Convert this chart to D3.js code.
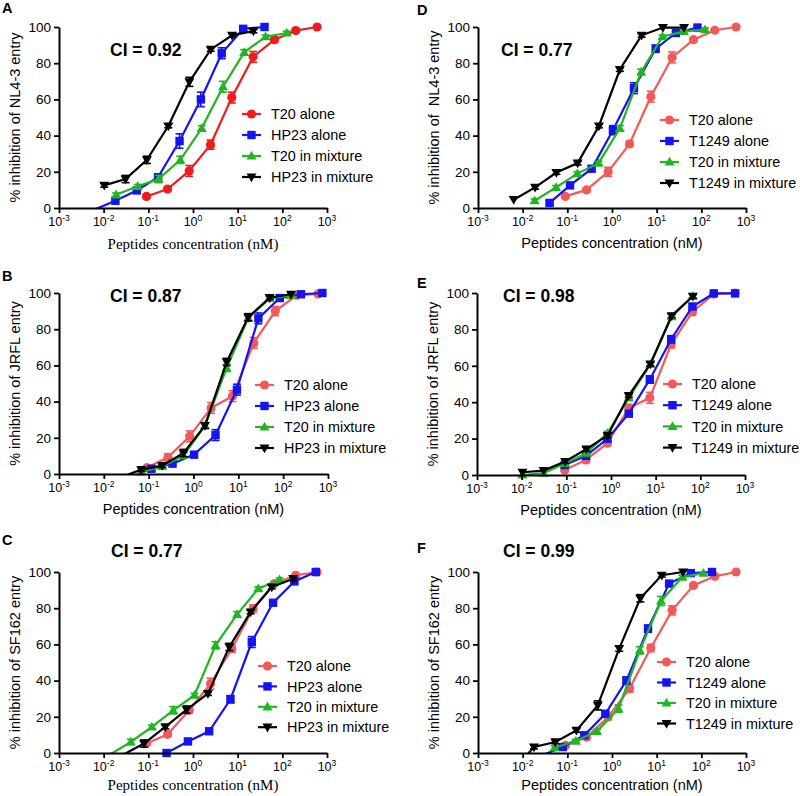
<!DOCTYPE html>
<html>
<head>
<meta charset="utf-8">
<script src="https://cdn.jsdelivr.net/npm/d3@7"></script>
<style>
    body { margin: 0; background: #fff; }
    text { font-family: "Liberation Sans", Arial, sans-serif; fill: #000; white-space: pre; }
</style>
</head>
<body>
<svg id="chart" width="800" height="796"></svg>
<script>
// Each point: [peptide concentration (nM), % inhibition, error]
// Panel A - NL4-3, T20 + HP23
const A_T20 = [[0.091,6.4,1],[0.27,10.5,1],[0.82,20.5,3],[2.47,35,2.5],[7.4,61,3],[22.2,83.5,3],[66.7,93,1.5],[200,98,1],[600,100,0.5]];
const A_HP23 = [[0.0061,-1,0],[0.0183,4,1],[0.055,9.7,1.5],[0.165,17,1.5],[0.5,37,4],[1.5,60,4],[4.4,85.5,3],[13.3,99,1],[40,100,0.5]];
const A_T20mix = [[0.019,7.3,1],[0.058,12,1],[0.17,16,2],[0.52,26.6,2],[1.56,44,1.5],[4.7,67,3],[14,86,1.5],[42,94.6,1],[126,96.7,1]];
const A_HP23mix = [[0.0103,12.5,1],[0.031,16,2],[0.093,26.6,2],[0.28,45.3,1],[0.83,69.7,2.5],[2.5,87.6,1],[7.5,95.4,1],[22.5,97.8,1]];

// Panel D - NL4-3, T20 + T1249
const D_T20 = [[0.09,6.4,1],[0.27,10,1],[0.82,20,2.5],[2.47,35.4,1.5],[7.4,61.5,3],[22.2,83.2,3],[66.7,93,1],[200,98.2,1],[600,100,0.5]];
const D_T1249 = [[0.04,2.8,1],[0.115,12.5,1.5],[0.35,21.7,1.5],[1.05,43,2.5],[3.1,66.2,3],[9.5,88,2],[27,96.7,1],[82,99.7,0.5]];
const D_T20mix = [[0.0185,4,1],[0.056,11.4,1],[0.167,19,1],[0.5,24.8,1],[1.5,44,1.5],[4.5,75.2,1.5],[13.5,94.6,1],[40.5,97.6,1],[121,98.5,1]];
const D_T1249mix = [[0.0063,4.6,0.5],[0.019,11.4,1],[0.057,19.6,1],[0.17,24.8,1],[0.51,45.3,1],[1.5,76.5,1],[4.6,95.4,1],[13.8,99.7,0.5],[41,99.7,0.5]];

// Panel B - JRFL, T20 + HP23
const B_T20 = [[0.091,3.5,1],[0.27,9.2,2],[0.82,20.8,3],[2.47,36.5,3],[7.4,43,3],[22.2,72.4,3],[66.7,90,2.5],[200,98.7,1],[600,99.5,0.5]];
const B_HP23 = [[0.115,2.9,1],[0.34,5.7,1],[1.03,10.7,1.5],[3.1,21.5,3],[9.3,46.6,3],[28,86,3],[84,97.2,1.5],[250,99.3,1],[750,100,0.5]];
const B_T20mix = [[0.0685,1.1,1],[0.2,4.2,1],[0.6,10.3,1.5],[1.8,26.7,1.5],[5.5,58.6,2],[16.6,86.2,1.5],[50,97,1],[150,98.7,1]];
const B_HP23mix = [[0.023,-2,0],[0.0685,2.4,1],[0.2,4.6,1],[0.6,11.6,2],[1.8,26.7,1.5],[5.5,61.9,2],[16.6,86.6,2],[50,97.4,1],[150,99.3,0.5]];

// Panel E - JRFL, T20 + T1249
const E_T20 = [[0.092,2.8,1],[0.276,8.3,1.5],[0.83,17.5,1.5],[2.5,36.8,2],[7.4,42.4,3],[22.2,71.8,2],[66.7,89.7,2],[200,99.4,0.5],[600,100,0.5]];
const E_T1249 = [[0.092,5.5,1],[0.276,10.5,1],[0.83,19.9,1],[2.5,33.7,1.5],[7.4,52.5,2],[22.2,74.6,2],[66.7,92.6,1.5],[200,99.8,0.5],[600,99.8,0.5]];
const E_T20mix = [[0.0104,0,0.5],[0.031,1,0.5],[0.094,6.4,1],[0.28,12,1],[0.84,23,1],[2.5,42.4,1],[7.6,60.8,1],[22.8,87,1],[68,98.2,1]];
const E_T1249mix = [[0.0104,1.5,0.5],[0.031,2.4,0.5],[0.094,7.4,1],[0.28,14.2,1],[0.84,21.7,1],[2.5,43.6,1],[7.6,61,1],[22.8,87.5,1],[68,98.2,1]];

// Panel C - SF162, T20 + HP23
const C_T20 = [[0.091,5.2,1],[0.27,10.3,1],[0.82,23.6,1.5],[2.47,38.3,3],[7.4,57.6,2],[22.2,79.8,2],[66.7,93.6,1],[200,98.2,1],[600,100,0.5]];
const C_HP23 = [[0.256,0,0.5],[0.77,6.4,1],[2.3,12,1],[6.9,29.7,2],[20.7,61.3,3],[62,83,1.5],[186,94.8,1],[560,100,0.5]];
const C_T20mix = [[0.0135,-1,0],[0.0405,6.1,1.5],[0.12,14.4,1],[0.36,23.6,2],[1.08,31.9,1],[3.2,59.5,2],[9.7,76.6,1.5],[29,90.8,1],[87,95.8,1]];
const C_HP23mix = [[0.027,-1,0],[0.08,5.2,2],[0.24,14.4,1],[0.72,24,2],[2.16,32.8,1],[6.5,58.6,2],[19.5,77.9,1],[58,91.7,1],[175,96.3,1]];

// Panel F - SF162, T20 + T1249
const F_T20 = [[0.091,4.2,1],[0.27,8.8,1],[0.82,19.9,1.5],[2.47,35.6,2],[7.4,58,2],[22.2,78.8,2.5],[66.7,92.6,1],[200,97.6,1],[600,100,0.5]];
const F_T1249 = [[0.026,-1.5,0],[0.079,3.3,1],[0.24,9.8,1],[0.71,21.7,1],[2.1,40,2],[6.4,68.7,2],[19,93.6,1],[58,99.4,0.5],[173,100,0.5]];
const F_T20mix = [[0.052,2.9,1],[0.155,6.6,1],[0.46,12,1],[1.4,24.5,2],[4.2,56.7,2],[12.5,84,2.5],[37.5,97.2,1],[112,99.4,0.5]];
const F_T1249mix = [[0.006,-10,0],[0.0179,3.3,1],[0.054,6.1,1],[0.16,12.5,1],[0.48,26.3,2.5],[1.45,57.7,1.5],[4.3,85.5,2],[13,98.2,1],[39,100,0.5]];

const xTicks = [1e-3, 1e-2, 1e-1, 1e0, 1e1, 1e2, 1e3];
const xExps = ['-3', '-2', '-1', '0', '1', '2', '3'];
const yTicks = [0, 20, 40, 60, 80, 100];

// shared styling
const blue = '#1414f0', green = '#22b522', black = '#000';

const panels = [
    { letter: 'A', lx: 2, ly: 13, left: 59, top: 27, w: 268, h: 181, ci: 'CI = 0.92', cx: 110, cy: 56,
      ylabel: '% inhibition of NL4-3 entry', other: 'HP23', serif: true, red: '#ee1c1c', titleOff: 41,
      legX: 242, legY: 114, legStep: 21, series: [A_T20, A_HP23, A_T20mix, A_HP23mix] },
    { letter: 'D', lx: 417, ly: 15, left: 478, top: 27, w: 268, h: 181, ci: 'CI = 0.77', cx: 501, cy: 56,
      ylabel: '% inhibition of  NL4-3 entry', other: 'T1249', serif: false, red: '#f25a5a', titleOff: 40,
      legX: 660, legY: 120, legStep: 21, series: [D_T20, D_T1249, D_T20mix, D_T1249mix] },
    { letter: 'B', lx: 2, ly: 281, left: 59, top: 293, w: 269, h: 181, ci: 'CI = 0.87', cx: 110, cy: 302,
      ylabel: '% inhibition of JRFL entry', other: 'HP23', serif: false, red: '#f25a5a', titleOff: 40,
      legX: 255, legY: 385, legStep: 21, series: [B_T20, B_HP23, B_T20mix, B_HP23mix] },
    { letter: 'E', lx: 417, ly: 288, left: 477, top: 293, w: 268, h: 182, ci: 'CI = 0.98', cx: 503, cy: 302,
      ylabel: '% inhibition of JRFL entry', other: 'T1249', serif: false, red: '#f25a5a', titleOff: 40,
      legX: 663, legY: 384, legStep: 21.2, series: [E_T20, E_T1249, E_T20mix, E_T1249mix] },
    { letter: 'C', lx: 2, ly: 545, left: 59, top: 572, w: 268, h: 181, ci: 'CI = 0.77', cx: 111, cy: 557,
      ylabel: '% inhibition of SF162 entry', other: 'HP23', serif: true, red: '#f25a5a', titleOff: 37,
      legX: 258, legY: 666, legStep: 20.4, series: [C_T20, C_HP23, C_T20mix, C_HP23mix] },
    { letter: 'F', lx: 417, ly: 553, left: 478, top: 572, w: 268, h: 181, ci: 'CI = 0.99', cx: 503, cy: 557,
      ylabel: '% inhibition of SF162 entry', other: 'T1249', serif: false, red: '#f25a5a', titleOff: 37,
      legX: 657, legY: 662, legStep: 20.5, series: [F_T20, F_T1249, F_T20mix, F_T1249mix] }
];

const svg = d3.select('#chart');

// marker shapes
function drawMarker(g, kind, color) {
    if (kind === 0) {
        g.append('circle').attr('r', 4.6).attr('fill', color);
    } else if (kind === 1) {
        g.append('rect').attr('x', -4.2).attr('y', -4.2).attr('width', 8.4).attr('height', 8.4).attr('fill', color);
    } else if (kind === 2) {
        g.append('path').attr('d', 'M0,-5.2L5,3.6L-5,3.6Z').attr('fill', color);
    } else {
        g.append('path').attr('d', 'M0,5.2L5,-3.6L-5,-3.6Z').attr('fill', color);
    }
}

panels.forEach((p, pi) => {
    const colors = [p.red, blue, green, black];
    const names = ['T20 alone', p.other + ' alone', 'T20 in mixture', p.other + ' in mixture'];

    const x = d3.scaleLog().domain([1e-3, 1e3]).range([0, p.w]);
    const y = d3.scaleLinear().domain([0, 100]).range([p.h, 0]);

    const g = svg.append('g').attr('transform', `translate(${p.left},${p.top})`);

    // clip at the x axis so negative values disappear under it
    g.append('clipPath').attr('id', 'clip' + pi)
        .append('rect').attr('x', 0).attr('y', -12).attr('width', p.w + 12).attr('height', p.h + 12);

    // series lines, error bars and markers
    p.series.forEach((data, si) => {
        const color = colors[si];
        const line = d3.line().x(d => x(d[0])).y(d => y(d[1]));
        g.append('path')
            .attr('d', line(data))
            .attr('clip-path', `url(#clip${pi})`)
            .attr('fill', 'none')
            .attr('stroke', color)
            .attr('stroke-width', 2.2);

        const pts = data.filter(d => d[1] >= 0);
        const eb = g.append('g').attr('stroke', color).attr('stroke-width', 1.6);
        pts.filter(d => d[2] > 0.6).forEach(d => {
            const cx = x(d[0]);
            const y1 = y(Math.min(d[1] + d[2], 100.5)), y2 = y(d[1] - d[2]);
            eb.append('line').attr('x1', cx).attr('x2', cx).attr('y1', y1).attr('y2', y2);
            eb.append('line').attr('x1', cx - 4).attr('x2', cx + 4).attr('y1', y1).attr('y2', y1);
            eb.append('line').attr('x1', cx - 4).attr('x2', cx + 4).attr('y1', y2).attr('y2', y2);
        });

        pts.forEach(d => {
            const m = g.append('g').attr('transform', `translate(${x(d[0])},${y(d[1])})`);
            drawMarker(m, si, color);
        });
    });

    // axes
    const yAxis = g.append('g')
        .call(d3.axisLeft(y).tickValues(yTicks).tickSize(5).tickSizeOuter(0).tickPadding(3));
    const xAxis = g.append('g').attr('transform', `translate(0,${p.h})`)
        .call(d3.axisBottom(x).tickValues(xTicks).tickSize(5).tickSizeOuter(0).tickFormat(''));
    [yAxis, xAxis].forEach(a => {
        a.select('.domain').attr('stroke', '#000').attr('stroke-width', 2);
        a.selectAll('.tick line').attr('stroke', '#000').attr('stroke-width', 1.8);
    });
    yAxis.selectAll('.tick text')
        .style('font-size', '13.5px')
        .style('font-family', '"Liberation Sans", Arial, sans-serif')
        .attr('fill', '#000');

    // x tick labels as powers of ten
    xTicks.forEach((t, i) => {
        const lab = g.append('text')
            .attr('x', x(t))
            .attr('y', p.h + 18)
            .attr('text-anchor', 'middle')
            .style('font-size', '12.5px');
        lab.append('tspan').text('10');
        lab.append('tspan').attr('dy', -5).style('font-size', '8.5px').text(xExps[i]);
    });

    // axis titles
    g.append('text')
        .attr('x', p.w / 2)
        .attr('y', p.h + p.titleOff)
        .attr('text-anchor', 'middle')
        .style('font-size', p.serif ? '15px' : '14.5px')
        .style('font-family', p.serif ? '"Liberation Serif", "Times New Roman", serif' : null)
        .text('Peptides concentration (nM)');

    g.append('text')
        .attr('transform', `translate(-39,${p.h / 2}) rotate(-90)`)
        .attr('text-anchor', 'middle')
        .style('font-size', '14.5px')
        .text(p.ylabel);

    // legend
    names.forEach((name, si) => {
        const ly = p.legY + si * p.legStep;
        const lg = svg.append('g').attr('transform', `translate(${p.legX},${ly})`);
        lg.append('line').attr('x1', 0).attr('x2', 19).attr('y1', 0).attr('y2', 0)
            .attr('stroke', colors[si]).attr('stroke-width', 2.2);
        const m = lg.append('g').attr('transform', 'translate(9.5,0)');
        drawMarker(m, si, colors[si]);
        lg.append('text').attr('x', 29).attr('y', 5.2).style('font-size', '14.4px').text(name);
    });

    // CI annotation and panel letter
    svg.append('text').attr('x', p.cx).attr('y', p.cy)
        .style('font-size', '17.5px').style('font-weight', 'bold').text(p.ci);
    svg.append('text').attr('x', p.lx).attr('y', p.ly)
        .style('font-size', '14.5px').style('font-weight', 'bold').text(p.letter);
});
</script>
</body>
</html>
